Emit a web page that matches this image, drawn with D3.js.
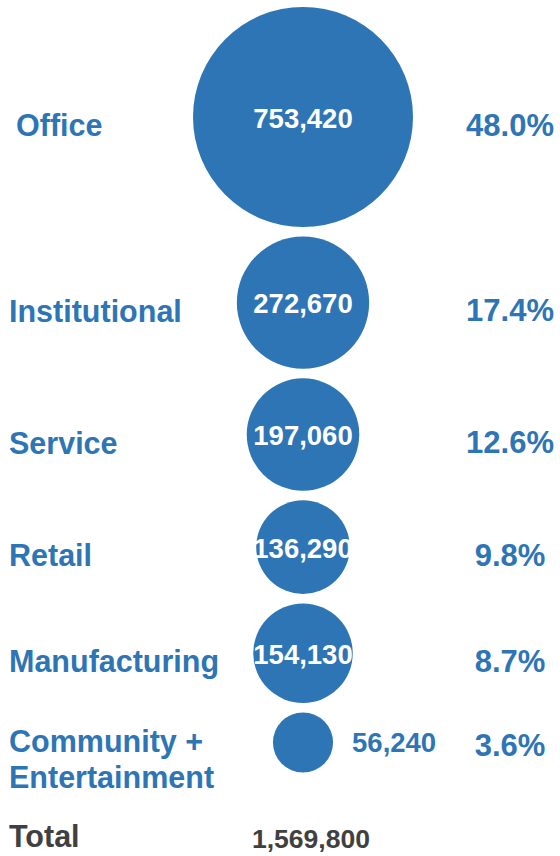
<!DOCTYPE html>
<html>
<head>
<meta charset="utf-8">
<script src="https://cdn.jsdelivr.net/npm/d3@7"></script>
<style>
  body { margin: 0; background: #fff; }
  text { font-family: "Liberation Sans", Arial, sans-serif; font-weight: bold; }
</style>
</head>
<body>
<div id="chart"></div>
<script>
// chart data
var categories = ["Office", "Institutional", "Service", "Retail", "Manufacturing", "Community +\nEntertainment"];
var values = [753420, 272670, 197060, 136290, 154130, 56240];
var shares = ["48.0%", "17.4%", "12.6%", "9.8%", "8.7%", "3.6%"];
var totalLabel = "Total";
var totalValue = 1569800;

var width = 560, height = 856;
var blue = "#2E75B6";
var fmt = d3.format(",");

var svg = d3.select("#chart")
  .append("svg")
  .attr("width", width)
  .attr("height", height);

// bubble area proportional to value
var r = d3.scaleSqrt()
  .domain([0, d3.max(values)])
  .range([0, 110]);

// stack the bubbles top to bottom with a small gap
var gap = 9.5, startY = 7, cx = 303;
var rows = [];
var yPos = startY;
values.forEach(function(v, i) {
  var rad = r(v);
  rows.push({name: categories[i], value: v, share: shares[i], r: rad, cy: yPos + rad});
  yPos += 2 * rad + gap;
});

var g = svg.append("g");

var row = g.selectAll("g.row")
  .data(rows)
  .enter().append("g")
  .attr("class", "row");

row.append("circle")
  .attr("cx", cx)
  .attr("cy", function(d) { return d.cy; })
  .attr("r", function(d) { return d.r; })
  .style("fill", blue);

// category labels (left)
row.append("text")
  .attr("x", function(d, i) { return i === 0 ? 16 : 9; })
  .attr("y", function(d) { return d.cy + (d.name.indexOf("\n") >= 0 ? -1 : 8); })
  .attr("dominant-baseline", "central")
  .attr("font-size", 30.5)
  .attr("fill", blue)
  .each(function(d) {
    var lines = d.name.split("\n");
    var t = d3.select(this);
    lines.forEach(function(l, k) {
      t.append("tspan")
        .attr("x", t.attr("x"))
        .attr("dy", k === 0 ? 0 : 36)
        .text(l);
    });
  });

// values, inside the bubble when it fits
row.append("text")
  .attr("x", function(d) { return d.r > 40 ? cx : cx + d.r + 19; })
  .attr("y", function(d) { return d.cy + (d.r > 40 ? 1 : 0); })
  .attr("text-anchor", function(d) { return d.r > 40 ? "middle" : "start"; })
  .attr("dominant-baseline", "central")
  .attr("font-size", 27.5)
  .attr("fill", function(d) { return d.r > 40 ? "#fff" : blue; })
  .text(function(d) { return fmt(d.value); });

// share of total (right)
row.append("text")
  .attr("x", 510)
  .attr("y", function(d, i) { return d.cy + (i === rows.length - 1 ? 3 : 8); })
  .attr("text-anchor", "middle")
  .attr("dominant-baseline", "central")
  .attr("font-size", 31)
  .attr("fill", blue)
  .text(function(d) { return d.share; });

// total row
svg.append("text")
  .attr("x", 9)
  .attr("y", 847)
  .attr("font-size", 30.5)
  .attr("fill", "#404040")
  .text(totalLabel);

svg.append("text")
  .attr("x", 252)
  .attr("y", 848)
  .attr("font-size", 26.5)
  .attr("fill", "#404040")
  .text(fmt(totalValue));
</script>
</body>
</html>
